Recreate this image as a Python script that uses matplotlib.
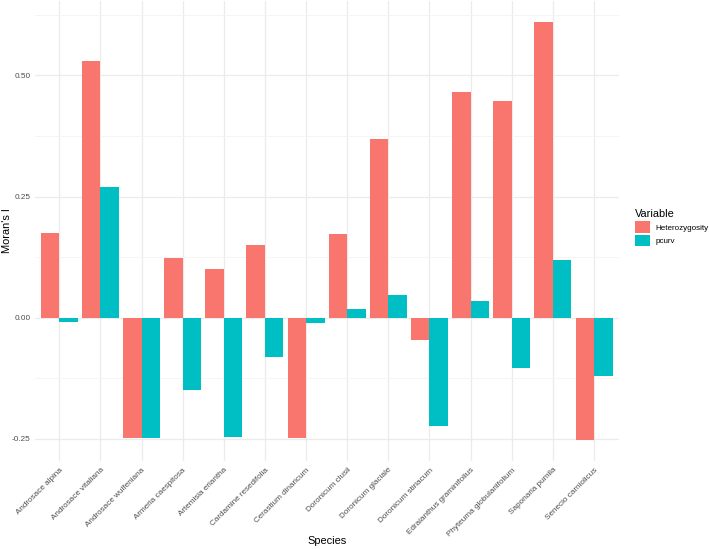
import numpy as np
import matplotlib
matplotlib.use("Agg")
import matplotlib.pyplot as plt
from matplotlib.patches import Patch

plt.rcParams['font.family'] = ['Liberation Sans', 'DejaVu Sans']

species = ["Androsace alpina", "Androsace vitaliana", "Androsace wulfeniana",
           "Armeria caespitosa", "Artemisia eriantha", "Cardamine resedifolia",
           "Cerastium dinaricum", "Doronicum clusii", "Doronicum glaciale",
           "Doronicum stiriacum", "Edraianthus graminifolius",
           "Phyteuma globulariifolium", "Saponaria pumila", "Senecio carniolicus"]
heterozygosity = [0.175, 0.530, -0.249, 0.124, 0.100, 0.150, -0.249,
                  0.173, 0.368, -0.046, 0.465, 0.447, 0.611, -0.253]
pcurv = [-0.009, 0.270, -0.249, -0.150, -0.247, -0.081, -0.011,
         0.018, 0.047, -0.223, 0.034, -0.103, 0.119, -0.120]

red = '#F8766D'
teal = '#00BFC4'

W, H = 709, 549
fig = plt.figure(figsize=(W/100, H/100), dpi=100)
ax = fig.add_axes([34.6/W, 1 - 461/H, (618.7 - 34.6)/W, (461 - 0.8)/H])

x = np.arange(1, len(species) + 1)
w = 0.45
ax.bar(x - w/2, heterozygosity, width=w, color=red, zorder=3)
ax.bar(x + w/2, pcurv, width=w, color=teal, zorder=3)

ax.set_xlim(0.4, len(species) + 0.6)
ax.set_ylim(-0.296, 0.654)

# ggplot theme_minimal style grid
ax.set_yticks([-0.25, 0.0, 0.25, 0.50])
ax.set_yticks([-0.125, 0.125, 0.375, 0.625], minor=True)
ax.set_yticklabels(["-0.25", "0.00", "0.25", "0.50"])
ax.set_xticks(x)
ax.set_xticklabels(species, rotation=45, ha='right', va='top', rotation_mode='anchor')
ax.grid(True, which='major', color='#EBEBEB', linewidth=0.9, zorder=0)
ax.grid(True, which='minor', axis='y', color='#F4F4F4', linewidth=0.6, zorder=0)
ax.set_axisbelow(True)
for s in ax.spines.values():
    s.set_visible(False)
ax.tick_params(which='both', length=0, labelsize=5.9, labelcolor='#4D4D4D')
ax.tick_params(axis='x', pad=4)
ax.tick_params(axis='y', pad=3)

fig.text(327/W, 1 - 541/H, "Species", fontsize=7.9, ha='center', va='center')
fig.text(7/W, 1 - 231/H, "Moran's I", fontsize=7.9, ha='center', va='center',
         rotation=90)

handles = [Patch(facecolor=red, label='Heterozygosity'),
           Patch(facecolor=teal, label='pcurv')]
leg = fig.legend(handles=handles, title='Variable', loc='upper left',
                 bbox_to_anchor=(629/W, 1 - 203/H), frameon=False,
                 fontsize=5.8, title_fontsize=7.9, handlelength=1.85,
                 handleheight=1.8, labelspacing=0.25, handletextpad=0.6,
                 borderpad=0.3)
leg._legend_box.align = 'left'

fig.savefig("out.png", dpi=100)
